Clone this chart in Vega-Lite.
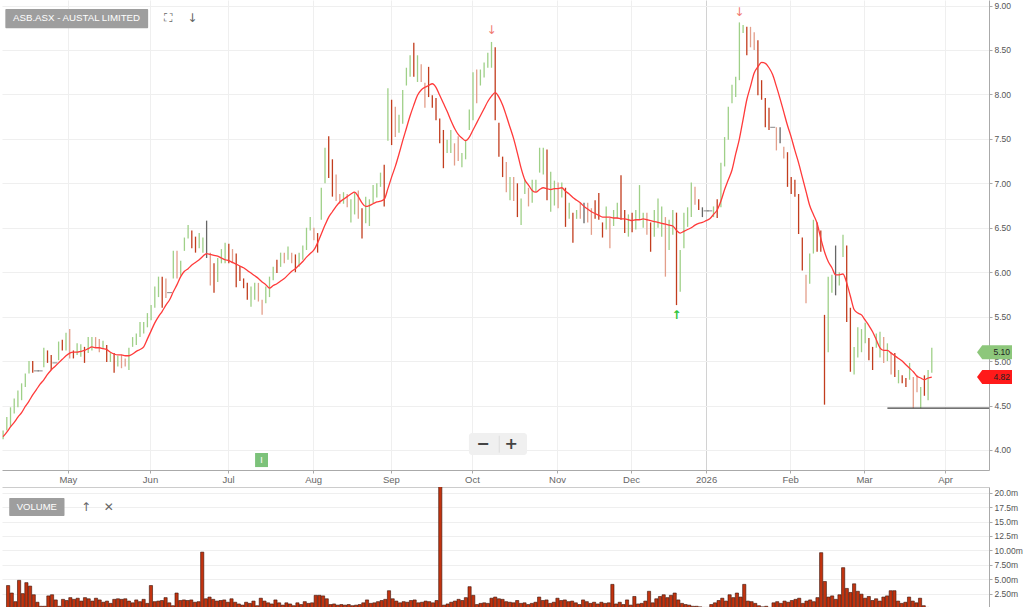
{
  "$schema": "https://vega.github.io/schema/vega-lite/v6.json",
  "padding": 0,
  "spacing": 3,
  "background": "white",
  "config": {"view": {"stroke": null}, "font": "Liberation Sans", "axis": {"title": null}},
  "datasets": {
    "bars": [
      {"i":0,"h":4.22,"l":4.12,"k":"g","m":4.15,"v":3.9},
      {"i":1,"h":4.37,"l":4.22,"k":"g","m":4.20,"v":2.6},
      {"i":2,"h":4.48,"l":4.26,"k":"g","m":4.26,"v":1.1},
      {"i":3,"h":4.58,"l":4.41,"k":"g","m":4.31,"v":4.8},
      {"i":4,"h":4.67,"l":4.48,"k":"g","m":4.37,"v":2.5},
      {"i":5,"h":4.75,"l":4.56,"k":"g","m":4.42,"v":4.4},
      {"i":6,"h":4.86,"l":4.71,"k":"g","m":4.49,"v":3.8},
      {"i":7,"h":5.00,"l":4.86,"k":"g","m":4.55,"v":2.3},
      {"i":8,"h":5.00,"l":4.87,"k":"r","m":4.62,"v":1.0},
      {"i":9,"h":4.89,"l":4.89,"k":"n","m":4.68,"v":0.3},
      {"i":10,"h":4.89,"l":4.89,"k":"n","m":4.74,"v":0.3},
      {"i":11,"h":5.15,"l":4.93,"k":"g","m":4.79,"v":2.1},
      {"i":12,"h":5.12,"l":4.98,"k":"r","m":4.85,"v":2.3},
      {"i":13,"h":5.07,"l":4.90,"k":"r","m":4.90,"v":1.4},
      {"i":14,"h":4.98,"l":4.98,"k":"n","m":4.94,"v":0.3},
      {"i":15,"h":5.22,"l":5.01,"k":"g","m":4.98,"v":1.5},
      {"i":16,"h":5.24,"l":5.12,"k":"r","m":5.02,"v":1.3},
      {"i":17,"h":5.32,"l":5.12,"k":"g","m":5.06,"v":1.8},
      {"i":18,"h":5.36,"l":5.03,"k":"s","m":5.09,"v":1.5},
      {"i":19,"h":5.12,"l":5.03,"k":"r","m":5.10,"v":1.7},
      {"i":20,"h":5.20,"l":5.07,"k":"g","m":5.10,"v":1.2},
      {"i":21,"h":5.19,"l":5.05,"k":"g","m":5.11,"v":1.8},
      {"i":22,"h":5.16,"l":4.98,"k":"r","m":5.12,"v":1.6},
      {"i":23,"h":5.27,"l":5.09,"k":"g","m":5.14,"v":1.2},
      {"i":24,"h":5.27,"l":5.12,"k":"g","m":5.16,"v":1.7},
      {"i":25,"h":5.27,"l":5.15,"k":"s","m":5.15,"v":1.4},
      {"i":26,"h":5.25,"l":5.10,"k":"s","m":5.15,"v":1.0},
      {"i":27,"h":5.23,"l":5.14,"k":"g","m":5.14,"v":1.2},
      {"i":28,"h":5.18,"l":4.99,"k":"r","m":5.13,"v":0.8},
      {"i":29,"h":5.09,"l":4.99,"k":"g","m":5.10,"v":1.5},
      {"i":30,"h":5.09,"l":4.87,"k":"r","m":5.08,"v":1.6},
      {"i":31,"h":5.06,"l":4.94,"k":"g","m":5.07,"v":1.5},
      {"i":32,"h":5.07,"l":4.92,"k":"s","m":5.07,"v":1.6},
      {"i":33,"h":5.03,"l":4.94,"k":"s","m":5.06,"v":1.2},
      {"i":34,"h":5.15,"l":4.90,"k":"g","m":5.06,"v":0.9},
      {"i":35,"h":5.27,"l":5.16,"k":"g","m":5.08,"v":1.4},
      {"i":36,"h":5.31,"l":5.18,"k":"g","m":5.11,"v":1.1},
      {"i":37,"h":5.44,"l":5.27,"k":"g","m":5.13,"v":1.5},
      {"i":38,"h":5.44,"l":5.31,"k":"g","m":5.16,"v":0.8},
      {"i":39,"h":5.54,"l":5.38,"k":"g","m":5.25,"v":3.9},
      {"i":40,"h":5.63,"l":5.46,"k":"g","m":5.34,"v":1.1},
      {"i":41,"h":5.84,"l":5.60,"k":"g","m":5.43,"v":1.2},
      {"i":42,"h":5.95,"l":5.72,"k":"g","m":5.50,"v":1.3},
      {"i":43,"h":5.95,"l":5.60,"k":"r","m":5.56,"v":1.8},
      {"i":44,"h":5.93,"l":5.71,"k":"s","m":5.63,"v":0.9},
      {"i":45,"h":5.77,"l":5.77,"k":"n","m":5.69,"v":0.4},
      {"i":46,"h":6.24,"l":5.93,"k":"g","m":5.78,"v":2.6},
      {"i":47,"h":6.24,"l":5.93,"k":"s","m":5.86,"v":1.3},
      {"i":48,"h":6.13,"l":5.96,"k":"g","m":5.95,"v":1.4},
      {"i":49,"h":6.39,"l":6.24,"k":"g","m":6.01,"v":1.3},
      {"i":50,"h":6.53,"l":6.38,"k":"g","m":6.04,"v":1.4},
      {"i":51,"h":6.47,"l":6.27,"k":"r","m":6.08,"v":1.0},
      {"i":52,"h":6.40,"l":6.22,"k":"r","m":6.11,"v":1.1},
      {"i":53,"h":6.44,"l":6.27,"k":"g","m":6.14,"v":9.7},
      {"i":54,"h":6.39,"l":6.22,"k":"g","m":6.18,"v":1.6},
      {"i":55,"h":6.58,"l":6.16,"k":"n","m":6.21,"v":1.9},
      {"i":56,"h":6.22,"l":5.85,"k":"s","m":6.20,"v":1.5},
      {"i":57,"h":6.10,"l":5.77,"k":"r","m":6.19,"v":1.2},
      {"i":58,"h":6.16,"l":5.89,"k":"g","m":6.18,"v":1.3},
      {"i":59,"h":6.26,"l":6.10,"k":"g","m":6.16,"v":1.4},
      {"i":60,"h":6.33,"l":6.10,"k":"g","m":6.14,"v":1.0},
      {"i":61,"h":6.32,"l":6.10,"k":"r","m":6.13,"v":1.6},
      {"i":62,"h":6.26,"l":6.10,"k":"s","m":6.11,"v":1.0},
      {"i":63,"h":6.21,"l":5.83,"k":"r","m":6.09,"v":0.7},
      {"i":64,"h":6.07,"l":5.90,"k":"r","m":6.07,"v":0.5},
      {"i":65,"h":5.93,"l":5.82,"k":"r","m":6.05,"v":1.0},
      {"i":66,"h":5.88,"l":5.69,"k":"r","m":6.02,"v":0.8},
      {"i":67,"h":5.84,"l":5.61,"k":"g","m":5.99,"v":1.2},
      {"i":68,"h":5.88,"l":5.69,"k":"g","m":5.96,"v":0.4},
      {"i":69,"h":5.88,"l":5.67,"k":"s","m":5.93,"v":1.7},
      {"i":70,"h":5.69,"l":5.52,"k":"s","m":5.89,"v":1.2},
      {"i":71,"h":5.84,"l":5.65,"k":"g","m":5.86,"v":0.9},
      {"i":72,"h":5.95,"l":5.72,"k":"g","m":5.82,"v":0.7},
      {"i":73,"h":6.06,"l":5.91,"k":"g","m":5.85,"v":1.4},
      {"i":74,"h":6.14,"l":5.99,"k":"r","m":5.87,"v":0.9},
      {"i":75,"h":6.22,"l":6.06,"k":"g","m":5.90,"v":0.5},
      {"i":76,"h":6.22,"l":6.10,"k":"s","m":5.93,"v":0.9},
      {"i":77,"h":6.29,"l":6.14,"k":"g","m":5.97,"v":0.7},
      {"i":78,"h":6.22,"l":6.10,"k":"s","m":6.01,"v":0.4},
      {"i":79,"h":6.20,"l":6.00,"k":"r","m":6.04,"v":0.9},
      {"i":80,"h":6.22,"l":6.06,"k":"g","m":6.08,"v":0.6},
      {"i":81,"h":6.30,"l":6.14,"k":"g","m":6.12,"v":1.1},
      {"i":82,"h":6.50,"l":6.25,"k":"g","m":6.17,"v":0.8},
      {"i":83,"h":6.62,"l":6.47,"k":"g","m":6.21,"v":0.9},
      {"i":84,"h":6.50,"l":6.36,"k":"s","m":6.25,"v":2.2},
      {"i":85,"h":6.44,"l":6.22,"k":"r","m":6.33,"v":2.2},
      {"i":86,"h":6.95,"l":6.59,"k":"g","m":6.43,"v":2.1},
      {"i":87,"h":7.40,"l":7.00,"k":"g","m":6.53,"v":1.6},
      {"i":88,"h":7.53,"l":7.06,"k":"r","m":6.62,"v":0.6},
      {"i":89,"h":7.27,"l":6.85,"k":"r","m":6.68,"v":0.7},
      {"i":90,"h":7.10,"l":6.80,"k":"s","m":6.74,"v":0.5},
      {"i":91,"h":6.88,"l":6.77,"k":"s","m":6.79,"v":0.6},
      {"i":92,"h":6.90,"l":6.77,"k":"g","m":6.82,"v":0.5},
      {"i":93,"h":6.88,"l":6.73,"k":"s","m":6.85,"v":0.6},
      {"i":94,"h":6.82,"l":6.56,"k":"g","m":6.88,"v":0.4},
      {"i":95,"h":6.90,"l":6.65,"k":"g","m":6.90,"v":0.5},
      {"i":96,"h":6.92,"l":6.60,"k":"s","m":6.85,"v":0.6},
      {"i":97,"h":6.72,"l":6.38,"k":"r","m":6.78,"v":0.9},
      {"i":98,"h":6.85,"l":6.55,"k":"g","m":6.74,"v":1.4},
      {"i":99,"h":6.82,"l":6.52,"k":"g","m":6.75,"v":0.8},
      {"i":100,"h":6.98,"l":6.77,"k":"g","m":6.77,"v":0.9},
      {"i":101,"h":7.00,"l":6.84,"k":"g","m":6.79,"v":1.1},
      {"i":102,"h":7.12,"l":6.96,"k":"g","m":6.80,"v":1.3},
      {"i":103,"h":7.21,"l":6.74,"k":"r","m":6.82,"v":1.5},
      {"i":104,"h":8.07,"l":7.48,"k":"g","m":6.94,"v":3.0},
      {"i":105,"h":7.94,"l":7.43,"k":"r","m":7.07,"v":1.6},
      {"i":106,"h":7.86,"l":7.52,"k":"s","m":7.19,"v":1.2},
      {"i":107,"h":7.77,"l":7.57,"k":"g","m":7.33,"v":0.9},
      {"i":108,"h":8.05,"l":7.67,"k":"g","m":7.48,"v":1.1},
      {"i":109,"h":8.30,"l":8.10,"k":"g","m":7.62,"v":1.0},
      {"i":110,"h":8.44,"l":8.20,"k":"g","m":7.76,"v":1.3},
      {"i":111,"h":8.58,"l":8.20,"k":"r","m":7.88,"v":1.4},
      {"i":112,"h":8.44,"l":8.14,"k":"g","m":7.99,"v":0.9},
      {"i":113,"h":8.34,"l":8.14,"k":"s","m":8.05,"v":1.0},
      {"i":114,"h":8.13,"l":7.85,"k":"s","m":8.08,"v":1.2},
      {"i":115,"h":8.31,"l":7.97,"k":"r","m":8.10,"v":1.1},
      {"i":116,"h":7.99,"l":7.85,"k":"r","m":8.12,"v":0.9},
      {"i":117,"h":7.96,"l":7.71,"k":"r","m":8.08,"v":1.3},
      {"i":118,"h":7.73,"l":7.45,"k":"r","m":7.99,"v":21.3},
      {"i":119,"h":7.60,"l":7.17,"k":"r","m":7.90,"v":0.5},
      {"i":120,"h":7.49,"l":7.34,"k":"g","m":7.81,"v":0.7},
      {"i":121,"h":7.60,"l":7.34,"k":"g","m":7.71,"v":1.0},
      {"i":122,"h":7.45,"l":7.20,"k":"s","m":7.62,"v":1.2},
      {"i":123,"h":7.53,"l":7.25,"k":"s","m":7.55,"v":1.5},
      {"i":124,"h":7.34,"l":7.18,"k":"g","m":7.51,"v":1.3},
      {"i":125,"h":7.49,"l":7.27,"k":"g","m":7.48,"v":1.8},
      {"i":126,"h":7.83,"l":7.60,"k":"g","m":7.52,"v":3.7},
      {"i":127,"h":8.25,"l":7.71,"k":"g","m":7.60,"v":2.2},
      {"i":128,"h":8.28,"l":7.90,"k":"s","m":7.68,"v":0.6},
      {"i":129,"h":8.28,"l":8.10,"k":"g","m":7.76,"v":0.8},
      {"i":130,"h":8.36,"l":8.19,"k":"g","m":7.84,"v":0.9},
      {"i":131,"h":8.47,"l":8.30,"k":"g","m":7.92,"v":0.8},
      {"i":132,"h":8.59,"l":8.30,"k":"g","m":7.98,"v":1.7},
      {"i":133,"h":8.53,"l":7.71,"k":"r","m":8.02,"v":1.9},
      {"i":134,"h":7.68,"l":7.30,"k":"r","m":7.97,"v":1.6},
      {"i":135,"h":7.30,"l":7.07,"k":"r","m":7.88,"v":1.5},
      {"i":136,"h":7.24,"l":6.90,"k":"s","m":7.76,"v":1.1},
      {"i":137,"h":7.07,"l":6.81,"k":"g","m":7.63,"v":1.0},
      {"i":138,"h":7.07,"l":6.80,"k":"s","m":7.50,"v":0.9},
      {"i":139,"h":7.00,"l":6.62,"k":"r","m":7.34,"v":1.3},
      {"i":140,"h":6.83,"l":6.53,"k":"g","m":7.17,"v":0.8},
      {"i":141,"h":7.04,"l":6.88,"k":"g","m":7.04,"v":0.9},
      {"i":142,"h":6.95,"l":6.74,"k":"s","m":6.98,"v":0.6},
      {"i":143,"h":7.04,"l":6.78,"k":"g","m":6.92,"v":0.8},
      {"i":144,"h":7.04,"l":6.90,"k":"g","m":6.90,"v":1.0},
      {"i":145,"h":7.40,"l":7.12,"k":"g","m":6.93,"v":1.9},
      {"i":146,"h":7.40,"l":7.10,"k":"g","m":6.95,"v":1.3},
      {"i":147,"h":7.38,"l":6.81,"k":"r","m":6.94,"v":1.4},
      {"i":148,"h":7.13,"l":6.68,"k":"g","m":6.93,"v":0.8},
      {"i":149,"h":7.03,"l":6.75,"k":"g","m":6.94,"v":1.0},
      {"i":150,"h":7.01,"l":6.72,"k":"s","m":6.94,"v":1.7},
      {"i":151,"h":7.01,"l":6.84,"k":"g","m":6.95,"v":1.3},
      {"i":152,"h":6.95,"l":6.51,"k":"r","m":6.91,"v":1.4},
      {"i":153,"h":6.78,"l":6.60,"k":"g","m":6.88,"v":1.1},
      {"i":154,"h":6.67,"l":6.33,"k":"r","m":6.84,"v":1.2},
      {"i":155,"h":6.70,"l":6.60,"k":"g","m":6.81,"v":0.9},
      {"i":156,"h":6.78,"l":6.60,"k":"s","m":6.78,"v":0.6},
      {"i":157,"h":6.78,"l":6.55,"k":"n","m":6.74,"v":1.4},
      {"i":158,"h":6.78,"l":6.56,"k":"s","m":6.71,"v":1.1},
      {"i":159,"h":6.72,"l":6.42,"k":"s","m":6.68,"v":0.8},
      {"i":160,"h":6.81,"l":6.60,"k":"r","m":6.66,"v":1.0},
      {"i":161,"h":6.89,"l":6.59,"k":"r","m":6.64,"v":0.7},
      {"i":162,"h":6.56,"l":6.39,"k":"r","m":6.62,"v":1.0},
      {"i":163,"h":6.74,"l":6.48,"k":"g","m":6.62,"v":0.8},
      {"i":164,"h":6.61,"l":6.27,"k":"s","m":6.62,"v":0.9},
      {"i":165,"h":6.70,"l":6.52,"k":"g","m":6.61,"v":4.1},
      {"i":166,"h":6.78,"l":6.60,"k":"g","m":6.61,"v":0.7},
      {"i":167,"h":7.09,"l":6.59,"k":"r","m":6.60,"v":1.0},
      {"i":168,"h":6.70,"l":6.44,"k":"r","m":6.60,"v":0.6},
      {"i":169,"h":6.65,"l":6.40,"k":"g","m":6.59,"v":1.4},
      {"i":170,"h":6.67,"l":6.45,"k":"r","m":6.58,"v":0.5},
      {"i":171,"h":6.70,"l":6.48,"k":"g","m":6.59,"v":2.0},
      {"i":172,"h":6.98,"l":6.59,"k":"g","m":6.59,"v":0.7},
      {"i":173,"h":6.67,"l":6.50,"k":"g","m":6.60,"v":0.8},
      {"i":174,"h":6.67,"l":6.42,"k":"s","m":6.59,"v":1.2},
      {"i":175,"h":6.56,"l":6.23,"k":"r","m":6.58,"v":2.9},
      {"i":176,"h":6.70,"l":6.40,"k":"g","m":6.57,"v":0.9},
      {"i":177,"h":6.83,"l":6.50,"k":"g","m":6.56,"v":1.6},
      {"i":178,"h":6.74,"l":6.40,"k":"g","m":6.55,"v":2.0},
      {"i":179,"h":6.62,"l":5.95,"k":"s","m":6.54,"v":2.3},
      {"i":180,"h":6.59,"l":6.25,"k":"g","m":6.53,"v":1.8},
      {"i":181,"h":6.70,"l":6.42,"k":"g","m":6.52,"v":2.2},
      {"i":182,"h":6.67,"l":5.63,"k":"r","m":6.47,"v":2.6},
      {"i":183,"h":6.25,"l":5.78,"k":"g","m":6.44,"v":1.4},
      {"i":184,"h":6.67,"l":6.27,"k":"g","m":6.46,"v":0.8},
      {"i":185,"h":6.73,"l":6.51,"k":"g","m":6.48,"v":0.6},
      {"i":186,"h":7.01,"l":6.62,"k":"g","m":6.50,"v":0.5},
      {"i":187,"h":6.96,"l":6.76,"k":"s","m":6.53,"v":0.3},
      {"i":188,"h":6.82,"l":6.70,"k":"r","m":6.55,"v":0.3},
      {"i":189,"h":6.73,"l":6.62,"k":"n","m":6.56,"v":0.2},
      {"i":190,"h":6.69,"l":6.69,"k":"n","m":6.58,"v":0.1},
      {"i":191,"h":6.69,"l":6.69,"k":"n","m":6.60,"v":0.1},
      {"i":192,"h":6.74,"l":6.62,"k":"g","m":6.65,"v":0.6},
      {"i":193,"h":6.82,"l":6.61,"k":"r","m":6.70,"v":0.9},
      {"i":194,"h":7.23,"l":6.73,"k":"g","m":6.80,"v":1.3},
      {"i":195,"h":7.52,"l":7.19,"k":"g","m":6.93,"v":1.7},
      {"i":196,"h":7.86,"l":7.49,"k":"g","m":7.04,"v":1.2},
      {"i":197,"h":8.11,"l":7.90,"k":"g","m":7.15,"v":2.3},
      {"i":198,"h":8.20,"l":7.97,"k":"g","m":7.33,"v":1.8},
      {"i":199,"h":8.81,"l":8.16,"k":"g","m":7.50,"v":2.6},
      {"i":200,"h":8.78,"l":8.69,"k":"g","m":7.72,"v":1.9},
      {"i":201,"h":8.76,"l":8.44,"k":"r","m":7.94,"v":4.1},
      {"i":202,"h":8.76,"l":8.53,"k":"s","m":8.09,"v":1.2},
      {"i":203,"h":8.70,"l":8.50,"k":"s","m":8.24,"v":1.1},
      {"i":204,"h":8.61,"l":7.99,"k":"r","m":8.31,"v":0.8},
      {"i":205,"h":8.16,"l":7.94,"k":"r","m":8.36,"v":0.4},
      {"i":206,"h":7.96,"l":7.63,"k":"r","m":8.35,"v":0.2},
      {"i":207,"h":7.85,"l":7.60,"k":"r","m":8.30,"v":0.3},
      {"i":208,"h":7.63,"l":7.63,"k":"n","m":8.22,"v":0.1},
      {"i":209,"h":7.63,"l":7.37,"k":"s","m":8.09,"v":0.9},
      {"i":210,"h":7.63,"l":7.45,"k":"n","m":7.95,"v":1.1},
      {"i":211,"h":7.41,"l":7.28,"k":"s","m":7.80,"v":0.8},
      {"i":212,"h":7.35,"l":6.96,"k":"r","m":7.65,"v":1.2},
      {"i":213,"h":7.07,"l":6.88,"k":"r","m":7.52,"v":1.0},
      {"i":214,"h":7.04,"l":6.85,"k":"r","m":7.37,"v":1.3},
      {"i":215,"h":6.88,"l":6.43,"k":"r","m":7.23,"v":1.5},
      {"i":216,"h":6.39,"l":6.02,"k":"r","m":7.07,"v":1.7},
      {"i":217,"h":5.97,"l":5.65,"k":"s","m":6.91,"v":0.8},
      {"i":218,"h":6.21,"l":5.87,"k":"g","m":6.75,"v":1.2},
      {"i":219,"h":6.59,"l":6.21,"k":"g","m":6.65,"v":1.4},
      {"i":220,"h":6.56,"l":6.23,"k":"r","m":6.55,"v":1.1},
      {"i":221,"h":6.47,"l":6.23,"k":"r","m":6.38,"v":1.8},
      {"i":222,"h":5.52,"l":4.51,"k":"r","m":6.23,"v":9.6},
      {"i":223,"h":5.95,"l":5.10,"k":"g","m":6.12,"v":4.6},
      {"i":224,"h":5.97,"l":5.77,"k":"g","m":6.05,"v":1.9},
      {"i":225,"h":6.30,"l":5.74,"k":"n","m":5.97,"v":2.1},
      {"i":226,"h":6.00,"l":5.85,"k":"g","m":5.97,"v":1.5},
      {"i":227,"h":6.42,"l":6.17,"k":"g","m":5.98,"v":2.3},
      {"i":228,"h":6.30,"l":5.44,"k":"r","m":5.88,"v":7.0},
      {"i":229,"h":5.60,"l":4.88,"k":"r","m":5.73,"v":3.4},
      {"i":230,"h":5.16,"l":4.85,"k":"g","m":5.58,"v":2.7},
      {"i":231,"h":5.38,"l":5.04,"k":"g","m":5.54,"v":4.2},
      {"i":232,"h":5.36,"l":5.10,"k":"g","m":5.52,"v":2.9},
      {"i":233,"h":5.43,"l":5.20,"k":"g","m":5.46,"v":2.4},
      {"i":234,"h":5.26,"l":5.01,"k":"r","m":5.40,"v":1.7},
      {"i":235,"h":5.16,"l":4.90,"k":"r","m":5.33,"v":2.0},
      {"i":236,"h":5.31,"l":5.15,"k":"g","m":5.24,"v":1.3},
      {"i":237,"h":5.33,"l":5.04,"k":"g","m":5.15,"v":1.6},
      {"i":238,"h":5.27,"l":4.98,"k":"s","m":5.12,"v":1.2},
      {"i":239,"h":5.20,"l":5.00,"k":"g","m":5.12,"v":1.9},
      {"i":240,"h":5.10,"l":4.85,"k":"s","m":5.09,"v":2.1},
      {"i":241,"h":5.09,"l":4.82,"k":"r","m":5.06,"v":3.0},
      {"i":242,"h":4.90,"l":4.75,"k":"g","m":5.03,"v":3.0},
      {"i":243,"h":4.84,"l":4.75,"k":"r","m":5.00,"v":1.2},
      {"i":244,"h":4.81,"l":4.71,"k":"r","m":4.96,"v":0.8},
      {"i":245,"h":4.98,"l":4.79,"k":"g","m":4.92,"v":1.0},
      {"i":246,"h":4.82,"l":4.47,"k":"s","m":4.88,"v":1.9},
      {"i":247,"h":4.84,"l":4.65,"k":"s","m":4.83,"v":1.2},
      {"i":248,"h":4.71,"l":4.47,"k":"g","m":4.81,"v":0.9},
      {"i":249,"h":4.84,"l":4.61,"k":"r","m":4.79,"v":1.7},
      {"i":250,"h":4.90,"l":4.56,"k":"g","m":4.81,"v":0.4},
      {"i":251,"h":5.15,"l":4.87,"k":"g","m":4.82,"v":0.1}
    ]
  },
  "vconcat": [
    {
      "width": 987,
      "height": 470,
      "layer": [
        {
          "data": {"name": "bars"},
          "mark": {"type": "rule", "strokeWidth": 1.3},
          "encoding": {
            "x": {
              "field": "i", "type": "quantitative",
              "scale": {"domain": [-0.3, 266.46], "nice": false, "zero": false},
              "axis": {
                "orient": "bottom",
                "values": [17.5, 39.7, 60.8, 83.8, 104.8, 126.7, 149.7, 169.7, 190, 212.7, 232.7, 254.6],
                "tickCount": 40,
                "labelExpr": "datum.value < 20 ? 'May' : datum.value < 45 ? 'Jun' : datum.value < 70 ? 'Jul' : datum.value < 95 ? 'Aug' : datum.value < 115 ? 'Sep' : datum.value < 140 ? 'Oct' : datum.value < 160 ? 'Nov' : datum.value < 180 ? 'Dec' : datum.value < 200 ? '2026' : datum.value < 220 ? 'Feb' : datum.value < 240 ? 'Mar' : 'Apr'",
                "grid": true,
                "gridColor": {"condition": {"test": "datum.value == 190", "value": "#d2d2d2"}, "value": "#efefef"},
                "domainColor": "#aaaaaa", "tickColor": "#aaaaaa", "tickSize": 3,
                "labelPadding": 1, "labelFontSize": 9.5, "labelColor": "#666666",
                "labelFlush": false, "labelOverlap": false
              }
            },
            "y": {
              "field": "h", "type": "quantitative",
              "scale": {"domain": [3.775, 9.062], "nice": false, "zero": false},
              "axis": {
                "orient": "right",
                "values": [4, 4.5, 5, 5.5, 6, 6.5, 7, 7.5, 8, 8.5, 9],
                "tickCount": 40,
                "format": ".2f", "gridColor": "#efefef",
                "domainColor": "#aaaaaa", "tickColor": "#aaaaaa", "tickSize": 3,
                "labelPadding": 2, "labelFontSize": 8.5, "labelColor": "#555555", "labelOverlap": false
              }
            },
            "y2": {"field": "l"},
            "color": {
              "field": "k", "type": "nominal",
              "scale": {"domain": ["g", "r", "s", "n"], "range": ["#9fd088", "#c23d1e", "#e39e8a", "#666666"]},
              "legend": null
            }
          }
        },
        {
          "data": {"name": "bars"},
          "transform": [{"filter": "datum.h == datum.l"}],
          "mark": {"type": "tick", "orient": "horizontal", "size": 5, "thickness": 1, "color": "#555555"},
          "encoding": {
            "x": {"field": "i", "type": "quantitative"},
            "y": {"field": "h", "type": "quantitative"}
          }
        },
        {
          "data": {"name": "bars"},
          "mark": {"type": "line", "color": "#ff3a3a", "strokeWidth": 1.3, "interpolate": "monotone"},
          "encoding": {
            "x": {"field": "i", "type": "quantitative"},
            "y": {"field": "m", "type": "quantitative"}
          }
        },
        {
          "data": {"values": [{"a": 239, "b": 266.46, "p": 4.472}]},
          "mark": {"type": "rule", "color": "#444444", "strokeWidth": 1.2},
          "encoding": {
            "x": {"field": "a", "type": "quantitative"},
            "x2": {"field": "b"},
            "y": {"field": "p", "type": "quantitative"}
          }
        },
        {
          "data": {"values": [{"a": 132, "p": 8.72, "t": "↓"}, {"a": 199, "p": 8.93, "t": "↓"}]},
          "mark": {"type": "text", "color": "#f07a72", "fontSize": 12, "font": "DejaVu Sans"},
          "encoding": {
            "x": {"field": "a", "type": "quantitative"},
            "y": {"field": "p", "type": "quantitative"},
            "text": {"field": "t"}
          }
        },
        {
          "data": {"values": [{"a": 182, "p": 5.52, "t": "↑"}]},
          "mark": {"type": "text", "color": "#2fc43a", "fontSize": 12, "fontWeight": "bold", "font": "DejaVu Sans"},
          "encoding": {
            "x": {"field": "a", "type": "quantitative"},
            "y": {"field": "p", "type": "quantitative"},
            "text": {"field": "t"}
          }
        },
        {
          "data": {"values": [{"a": 0.6, "b": 39.2, "p": 8.96, "q": 8.745}]},
          "mark": {"type": "rect", "color": "#9e9e9e", "cornerRadius": 1},
          "encoding": {
            "x": {"field": "a", "type": "quantitative"},
            "x2": {"field": "b"},
            "y": {"field": "p", "type": "quantitative"},
            "y2": {"field": "q"}
          }
        },
        {
          "data": {"values": [{"a": 19.85, "p": 8.855, "t": "ASB.ASX - AUSTAL LIMITED"}]},
          "mark": {"type": "text", "color": "#ffffff", "fontSize": 9.7, "font": "Liberation Sans"},
          "encoding": {
            "x": {"field": "a", "type": "quantitative"},
            "y": {"field": "p", "type": "quantitative"},
            "text": {"field": "t"}
          }
        },
        {
          "data": {"values": [{"a": 44.6, "p": 8.86, "t": "⛶"}, {"a": 51.1, "p": 8.86, "t": "↓"}]},
          "mark": {"type": "text", "color": "#666666", "fontSize": 12, "font": "DejaVu Sans"},
          "encoding": {
            "x": {"field": "a", "type": "quantitative"},
            "y": {"field": "p", "type": "quantitative"},
            "text": {"field": "t"}
          }
        },
        {
          "data": {"values": [{"a": 125.9, "b": 141.6, "p": 4.191, "q": 3.943}]},
          "mark": {"type": "rect", "color": "#f0f0f0", "cornerRadius": 3},
          "encoding": {
            "x": {"field": "a", "type": "quantitative"},
            "x2": {"field": "b"},
            "y": {"field": "p", "type": "quantitative"},
            "y2": {"field": "q"}
          }
        },
        {
          "data": {"values": [{"a": 134.1, "p": 4.16, "q": 3.97}]},
          "mark": {"type": "rule", "color": "#dddddd"},
          "encoding": {
            "x": {"field": "a", "type": "quantitative"},
            "y": {"field": "p", "type": "quantitative"},
            "y2": {"field": "q"}
          }
        },
        {
          "data": {"values": [{"a": 129.7, "p": 4.067, "t": "−"}, {"a": 137.3, "p": 4.067, "t": "+"}]},
          "mark": {"type": "text", "color": "#444444", "fontSize": 16, "fontWeight": "bold", "font": "DejaVu Sans"},
          "encoding": {
            "x": {"field": "a", "type": "quantitative"},
            "y": {"field": "p", "type": "quantitative"},
            "text": {"field": "t"}
          }
        },
        {
          "data": {"values": [{"a": 68.1, "b": 71.6, "p": 3.966, "q": 3.808}]},
          "mark": {"type": "rect", "color": "#7cc27a"},
          "encoding": {
            "x": {"field": "a", "type": "quantitative"},
            "x2": {"field": "b"},
            "y": {"field": "p", "type": "quantitative"},
            "y2": {"field": "q"}
          }
        },
        {
          "data": {"values": [{"a": 69.85, "p": 3.887, "t": "I"}]},
          "mark": {"type": "text", "color": "#ffffff", "fontSize": 9, "font": "Liberation Sans"},
          "encoding": {
            "x": {"field": "a", "type": "quantitative"},
            "y": {"field": "p", "type": "quantitative"},
            "text": {"field": "t"}
          }
        },
        {
          "data": {"values": [{"a": 267.94, "p": 5.10, "s": "last"}, {"a": 267.94, "p": 4.82, "s": "ma"}]},
          "mark": {"type": "point", "filled": true, "opacity": 1, "strokeWidth": 0, "size": 1225, "shape": "M -1 0 L -0.7 -0.4 L 1 -0.4 L 1 0.4 L -0.7 0.4 Z", "clip": false},
          "encoding": {
            "x": {"field": "a", "type": "quantitative"},
            "y": {"field": "p", "type": "quantitative"},
            "fill": {"field": "s", "type": "nominal", "scale": {"domain": ["last", "ma"], "range": ["#8dc77b", "#ff1a1a"]}, "legend": null}
          }
        },
        {
          "data": {"values": [{"a": 269.9, "p": 5.10, "t": "5.10"}, {"a": 269.9, "p": 4.82, "t": "4.82"}]},
          "mark": {"type": "text", "color": "#222222", "fontSize": 8.5, "font": "Liberation Sans", "clip": false},
          "encoding": {
            "x": {"field": "a", "type": "quantitative"},
            "y": {"field": "p", "type": "quantitative"},
            "text": {"field": "t"}
          }
        }
      ]
    },
    {
      "width": 987,
      "height": 121,
      "layer": [
        {
          "data": {"name": "bars"},
          "mark": {"type": "bar", "width": 3.2, "fill": "#c2330f", "stroke": "#3b1208", "strokeWidth": 0.6, "clip": true},
          "encoding": {
            "x": {
              "field": "i", "type": "quantitative",
              "scale": {"domain": [-0.3, 266.46], "nice": false, "zero": false},
              "axis": {"orient": "top", "labels": false, "ticks": false, "grid": false, "domainColor": "#cccccc"}
            },
            "y": {
              "field": "v", "type": "quantitative",
              "scale": {"domain": [0, 21], "nice": false},
              "axis": {
                "orient": "right",
                "values": [2.5, 5, 7.5, 10, 12.5, 15, 17.5, 20],
                "tickCount": 40,
                "labelExpr": "datum.value >= 12.5 ? format(datum.value, '.1f') + 'm' : format(datum.value, '.2f') + 'm'",
                "gridColor": "#efefef", "domainColor": "#aaaaaa", "tickColor": "#aaaaaa", "tickSize": 3,
                "labelPadding": 2, "labelFontSize": 8.5, "labelColor": "#555555", "labelOverlap": false
              }
            }
          }
        },
        {
          "data": {"values": [{"a": 0.3, "b": 15.4, "p": 19.09, "q": 15.97}]},
          "mark": {"type": "rect", "color": "#9e9e9e", "cornerRadius": 1},
          "encoding": {
            "x": {"field": "a", "type": "quantitative"},
            "x2": {"field": "b"},
            "y": {"field": "p", "type": "quantitative"},
            "y2": {"field": "q"}
          }
        },
        {
          "data": {"values": [{"a": 7.85, "p": 17.53, "t": "VOLUME"}]},
          "mark": {"type": "text", "color": "#ffffff", "fontSize": 9.5, "font": "Liberation Sans"},
          "encoding": {
            "x": {"field": "a", "type": "quantitative"},
            "y": {"field": "p", "type": "quantitative"},
            "text": {"field": "t"}
          }
        },
        {
          "data": {"values": [{"a": 21.3, "p": 17.53, "t": "↑"}, {"a": 27.5, "p": 17.53, "t": "✕"}]},
          "mark": {"type": "text", "color": "#666666", "fontSize": 12, "font": "DejaVu Sans"},
          "encoding": {
            "x": {"field": "a", "type": "quantitative"},
            "y": {"field": "p", "type": "quantitative"},
            "text": {"field": "t"}
          }
        }
      ]
    }
  ]
}
